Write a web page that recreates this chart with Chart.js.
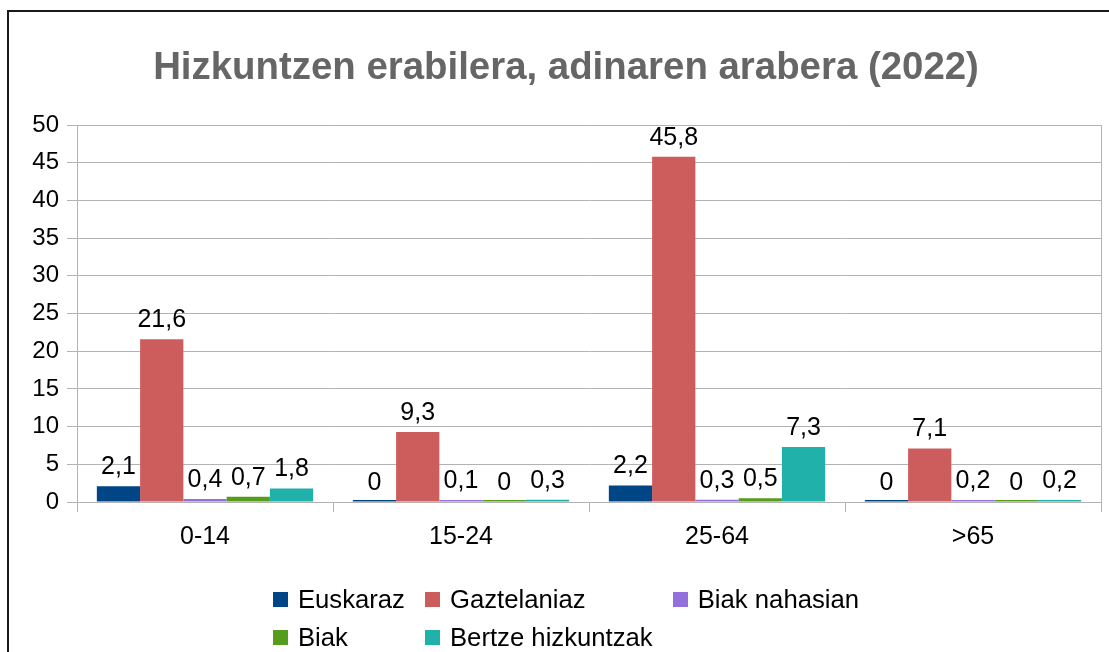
<!DOCTYPE html>
<html>
<head>
<meta charset="utf-8">
<script src="https://cdn.jsdelivr.net/npm/chart.js@4.4.1/dist/chart.umd.min.js"></script>
<style>
  html, body { margin: 0; padding: 0; background: #fff; overflow: hidden; width: 1109px; height: 652px; }
  #frame { position: absolute; left: 7px; top: 10px; width: 1200px; height: 700px; border-left: 2px solid #1a1a1a; border-top: 2px solid #1a1a1a; box-sizing: border-box; }
  #wrap { position: absolute; left: 8px; top: 0px; width: 1116px; height: 652px; }
  #legendWrap { position: absolute; left: 0; top: 580px; width: 1132px; display: flex; justify-content: center; }
  #legend { display: grid; grid-template-columns: auto auto auto; column-gap: 20px; font-family: "Liberation Sans", Arial, sans-serif; font-size: 25.7px; color: #000; }
  .item { display: flex; align-items: center; height: 38px; line-height: 38px; white-space: nowrap; }
  .box { width: 15px; height: 15px; margin-right: 10px; flex: none; }
</style>
</head>
<body>
<div id="frame"></div>
<div id="wrap"><canvas id="c" width="1116" height="652"></canvas></div>
<div id="legendWrap"><div id="legend"></div></div>
<script>
const titleText = 'Hizkuntzen erabilera, adinaren arabera (2022)';
const categories = ['0-14', '15-24', '25-64', '>65'];
const seriesNames = ['Euskaraz', 'Gaztelaniaz', 'Biak nahasian', 'Biak', 'Bertze hizkuntzak'];
const euskaraz = [2.1, 0, 2.2, 0];
const gaztelaniaz = [21.6, 9.3, 45.8, 7.1];
const biakNahasian = [0.4, 0.1, 0.3, 0.2];
const biak = [0.7, 0, 0.5, 0];
const bertzeHizkuntzak = [1.8, 0.3, 7.3, 0.2];
const seriesColors = ['#004586', '#cd5c5c', '#9370db', '#579d1c', '#20b2aa'];
const yMin = 0, yMax = 50, yStep = 5;

const seriesValues = [euskaraz, gaztelaniaz, biakNahasian, biak, bertzeHizkuntzak];
const FONT = '"Liberation Sans", Arial, sans-serif';
const GRID = '#b3b3b3';

const fmt = v => String(v).replace('.', ',');

const dataLabels = {
  id: 'dataLabels',
  afterDatasetsDraw(chart) {
    const ctx = chart.ctx;
    ctx.save();
    ctx.font = '25px ' + FONT;
    ctx.fillStyle = '#000';
    ctx.textAlign = 'center';
    ctx.textBaseline = 'alphabetic';
    chart.data.datasets.forEach((ds, i) => {
      const meta = chart.getDatasetMeta(i);
      meta.data.forEach((el, j) => {
        const v = ds.data[j];
        const base = chart.scales.y.getPixelForValue(0);
        const top = Math.min(el.y, base);
        ctx.fillText(fmt(v), el.x, (v === 0 ? base : top) - 12);
      });
    });
    ctx.restore();
  }
};

const areaBorder = {
  id: 'areaBorder',
  beforeDatasetsDraw(chart) {
    const a = chart.chartArea, ctx = chart.ctx;
    ctx.save();
    ctx.strokeStyle = GRID;
    ctx.lineWidth = 1;
    ctx.beginPath();
    ctx.moveTo(Math.round(a.right) + 0.5, a.top);
    ctx.lineTo(Math.round(a.right) + 0.5, a.bottom + 0.5);
    ctx.stroke();
    ctx.restore();
  }
};

new Chart(document.getElementById('c'), {
  type: 'bar',
  data: {
    labels: categories,
    datasets: seriesNames.map((n, i) => ({
      label: n,
      data: seriesValues[i],
      backgroundColor: seriesColors[i],
      borderWidth: 0,
      categoryPercentage: 0.845,
      barPercentage: 1,
      minBarLength: 2
    }))
  },
  options: {
    responsive: false,
    animation: false,
    devicePixelRatio: 1,
    layout: { padding: { left: 0, right: 0, top: 0, bottom: 90 } },
    plugins: {
      legend: { display: false },
      tooltip: { enabled: false },
      title: {
        display: true,
        text: titleText,
        color: '#666666',
        font: { family: FONT, size: 38.4, weight: 'bold', lineHeight: 1.2 },
        padding: { top: 45, bottom: 34 }
      }
    },
    scales: {
      x: {
        grid: { display: true, drawOnChartArea: false, drawTicks: true, tickLength: 10, color: GRID, offset: true },
        border: { display: true, color: GRID },
        ticks: { color: '#000', font: { family: FONT, size: 25, lineHeight: 1.2 }, padding: 10, maxRotation: 0 }
      },
      y: {
        min: yMin, max: yMax,
        grid: { color: GRID, tickLength: 10, drawTicks: true },
        border: { display: true, color: GRID },
        ticks: { stepSize: yStep, color: '#000', font: { family: FONT, size: 24 }, padding: 8 },
        afterFit(s) { s.width = 69; }
      },
      yR: {
        type: 'linear',
        position: 'right',
        display: true,
        grid: { display: false, drawTicks: false },
        border: { display: false },
        ticks: { display: false },
        afterFit(s) { s.width = 23; }
      }
    }
  },
  plugins: [dataLabels, areaBorder]
});

const legend = document.getElementById('legend');
seriesNames.forEach((n, i) => {
  const it = document.createElement('div');
  it.className = 'item';
  const b = document.createElement('span');
  b.className = 'box';
  b.style.background = seriesColors[i];
  const t = document.createElement('span');
  t.textContent = n;
  it.appendChild(b); it.appendChild(t);
  legend.appendChild(it);
});
</script>
</body>
</html>
